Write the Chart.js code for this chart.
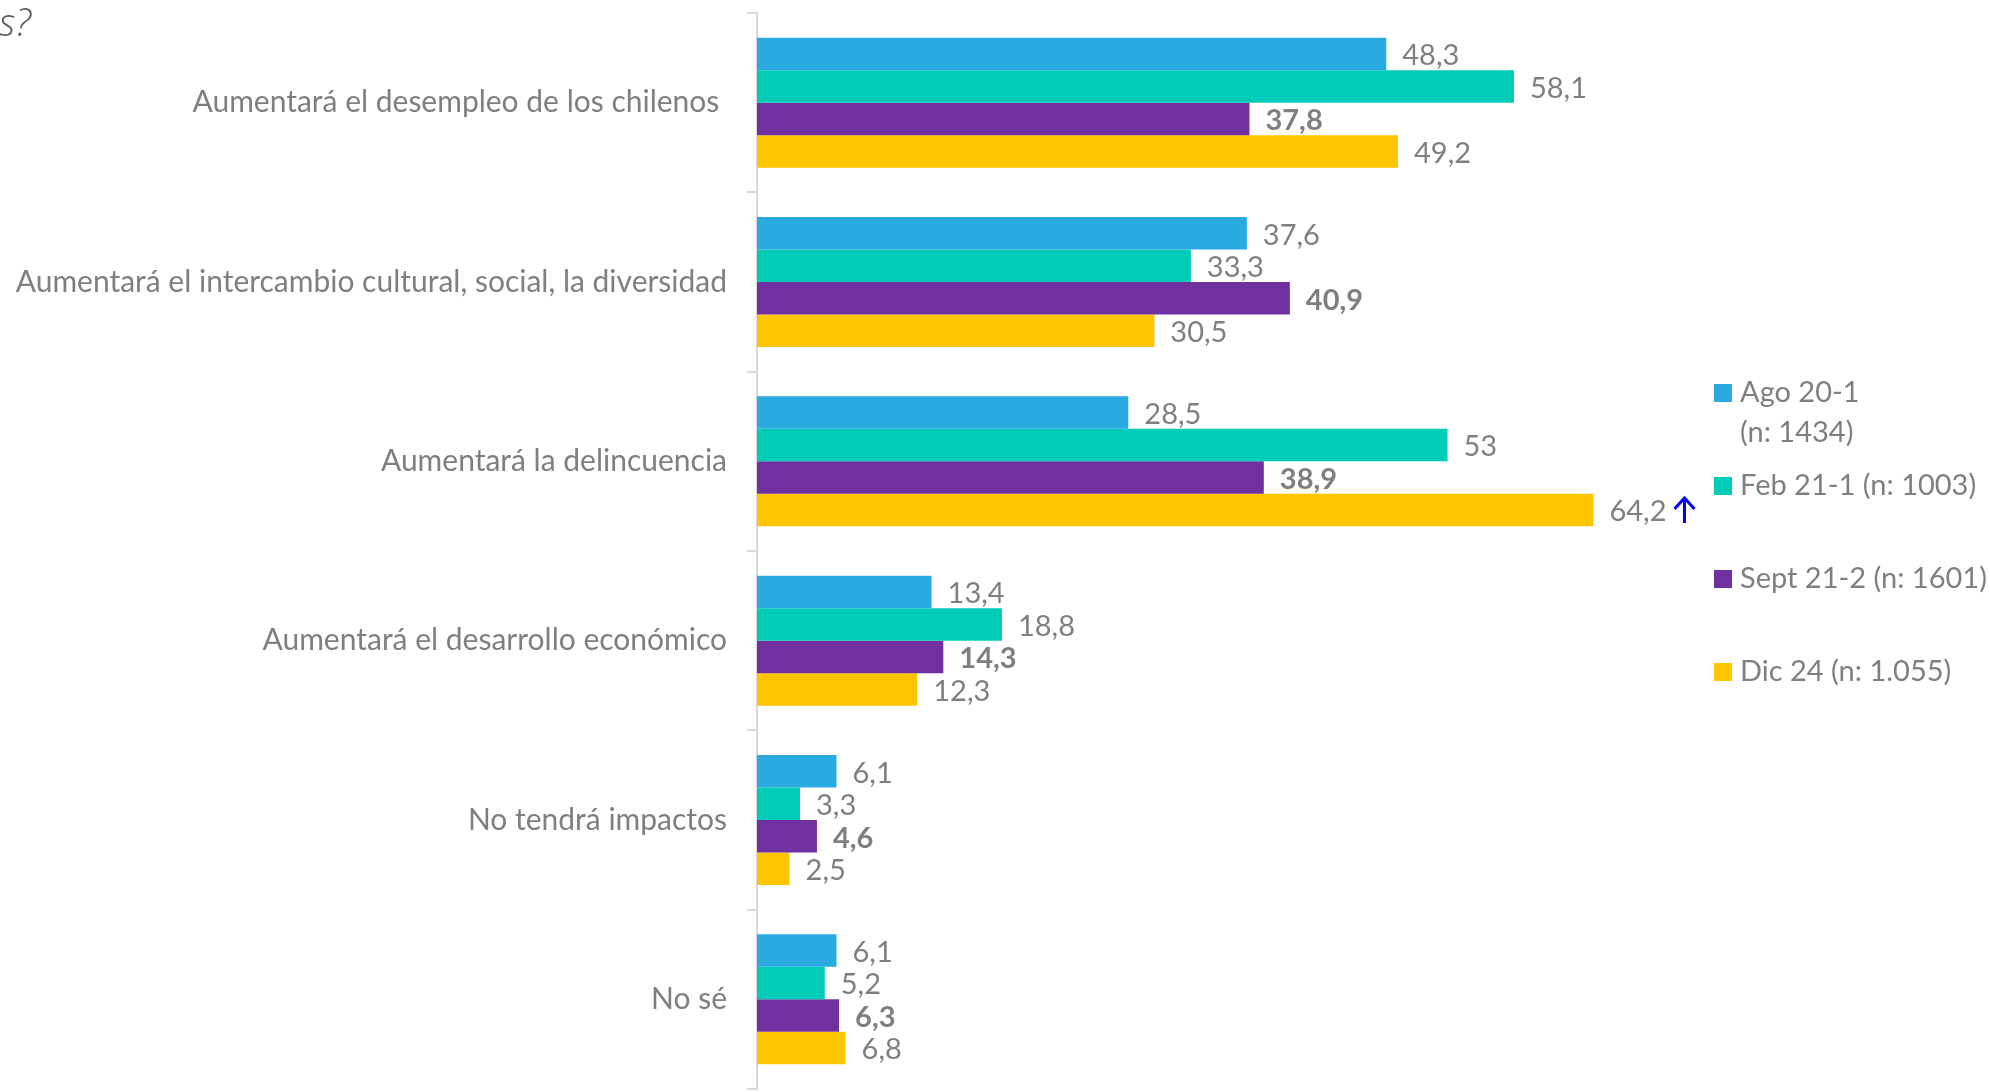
<!DOCTYPE html>
<html lang="es">
<head>
<meta charset="utf-8">
<title>Impacto</title>
<script src="https://cdn.jsdelivr.net/npm/chart.js@4.4.1/dist/chart.umd.min.js"></script>
<style>
  html, body { margin: 0; padding: 0; background: #fff; }
  #wrap { position: relative; width: 1990px; height: 1092px; }
  canvas { display: block; }
</style>
</head>
<body>
<div id="wrap"><canvas id="chart" width="1990" height="1092"></canvas></div>
<script>
// Data
const categories = [
  "Aumentará el desempleo de los chilenos ",
  "Aumentará el intercambio cultural, social, la diversidad",
  "Aumentará la delincuencia",
  "Aumentará el desarrollo económico",
  "No tendrá impactos",
  "No sé",
];
const ago20 = [48.3, 37.6, 28.5, 13.4, 6.1, 6.1];
const feb21 = [58.1, 33.3, 53, 18.8, 3.3, 5.2];
const sept21 = [37.8, 40.9, 38.9, 14.3, 4.6, 6.3];
const dic24 = [49.2, 30.5, 64.2, 12.3, 2.5, 6.8];
const seriesNames = [
  ["Ago 20-1", "(n: 1434)"],
  ["Feb 21-1 (n: 1003)"],
  ["Sept 21-2 (n: 1601)"],
  ["Dic 24 (n: 1.055)"],
];
const seriesColors = ["#29ABE2", "#00CCB8", "#7030A0", "#FFC600"];
const boldSeries = [false, false, true, false];
// up arrow next to the Dic 24 value for "Aumentará la delincuencia"
const dicArrow = [false, false, true, false, false, false];

const FONT = "Lato, 'Open Sans', sans-serif";
const GRAY = "#7f7f7f";

const fmt = (v) => String(v).replace(".", ",");

// value labels + arrow
const valueLabels = {
  id: "valueLabels",
  afterDatasetsDraw(chart) {
    const ctx = chart.ctx;
    ctx.save();
    ctx.textBaseline = "middle";
    ctx.textAlign = "left";
    chart.data.datasets.forEach((ds, di) => {
      const meta = chart.getDatasetMeta(di);
      ctx.font = (boldSeries[di] ? "bold " : "") + "29px " + FONT;
      ctx.fillStyle = GRAY;
      meta.data.forEach((bar, i) => {
        const txt = fmt(ds.data[i]);
        const x = bar.x + 16;
        ctx.fillText(txt, x, bar.y + 2);
        if (di === 3 && dicArrow[i]) {
          const ax = x + ctx.measureText(txt).width + 18;
          ctx.strokeStyle = "#0000FF";
          ctx.lineWidth = 3;
          ctx.beginPath();
          ctx.moveTo(ax, bar.y + 13);
          ctx.lineTo(ax, bar.y - 12);
          ctx.moveTo(ax - 10, bar.y - 1);
          ctx.lineTo(ax, bar.y - 12);
          ctx.lineTo(ax + 10, bar.y - 1);
          ctx.stroke();
        }
      });
    });
    ctx.restore();
  },
};

// legend and cropped title fragment
const sideText = {
  id: "sideText",
  afterDraw(chart) {
    const ctx = chart.ctx;
    ctx.save();
    ctx.textBaseline = "alphabetic";
    ctx.textAlign = "left";
    ctx.font = "italic 300 38px 'Open Sans', " + FONT;
    ctx.fillStyle = "#595959";
    ctx.fillText("s?", -1, 36);

    ctx.font = "29px " + FONT;
    seriesNames.forEach((lines, i) => {
      const top = 384 + i * 93;
      ctx.fillStyle = seriesColors[i];
      ctx.fillRect(1714, top, 18, 18);
      ctx.fillStyle = GRAY;
      lines.forEach((line, j) => {
        ctx.fillText(line, 1740, top + 18 + j * 40);
      });
    });
    ctx.restore();
  },
};

const datasets = [ago20, feb21, sept21, dic24].map((data, i) => ({
  label: seriesNames[i].join(" "),
  data: data,
  backgroundColor: seriesColors[i],
  borderWidth: 0,
  categoryPercentage: 0.725,
  barPercentage: 1.0,
}));

new Chart(document.getElementById("chart"), {
  type: "bar",
  data: { labels: categories, datasets: datasets },
  options: {
    indexAxis: "y",
    responsive: false,
    animation: false,
    layout: { padding: { top: 13, bottom: 3, left: 0, right: 321 } },
    scales: {
      x: { min: 0, max: 70, display: false },
      y: {
        afterFit(scale) {
          scale.width = 757;
          scale.paddingTop = 0;
          scale.paddingBottom = 0;
        },
        grid: {
          drawOnChartArea: false,
          drawTicks: true,
          tickLength: 10,
          color: "#d9d9d9",
          lineWidth: 2,
        },
        border: { color: "#d9d9d9", width: 2 },
        ticks: {
          color: GRAY,
          padding: 20,
          autoSkip: false,
          font: { family: FONT, size: 30 },
        },
      },
    },
    plugins: {
      legend: { display: false },
      tooltip: { enabled: false },
    },
  },
  plugins: [valueLabels, sideText],
});
</script>
</body>
</html>
